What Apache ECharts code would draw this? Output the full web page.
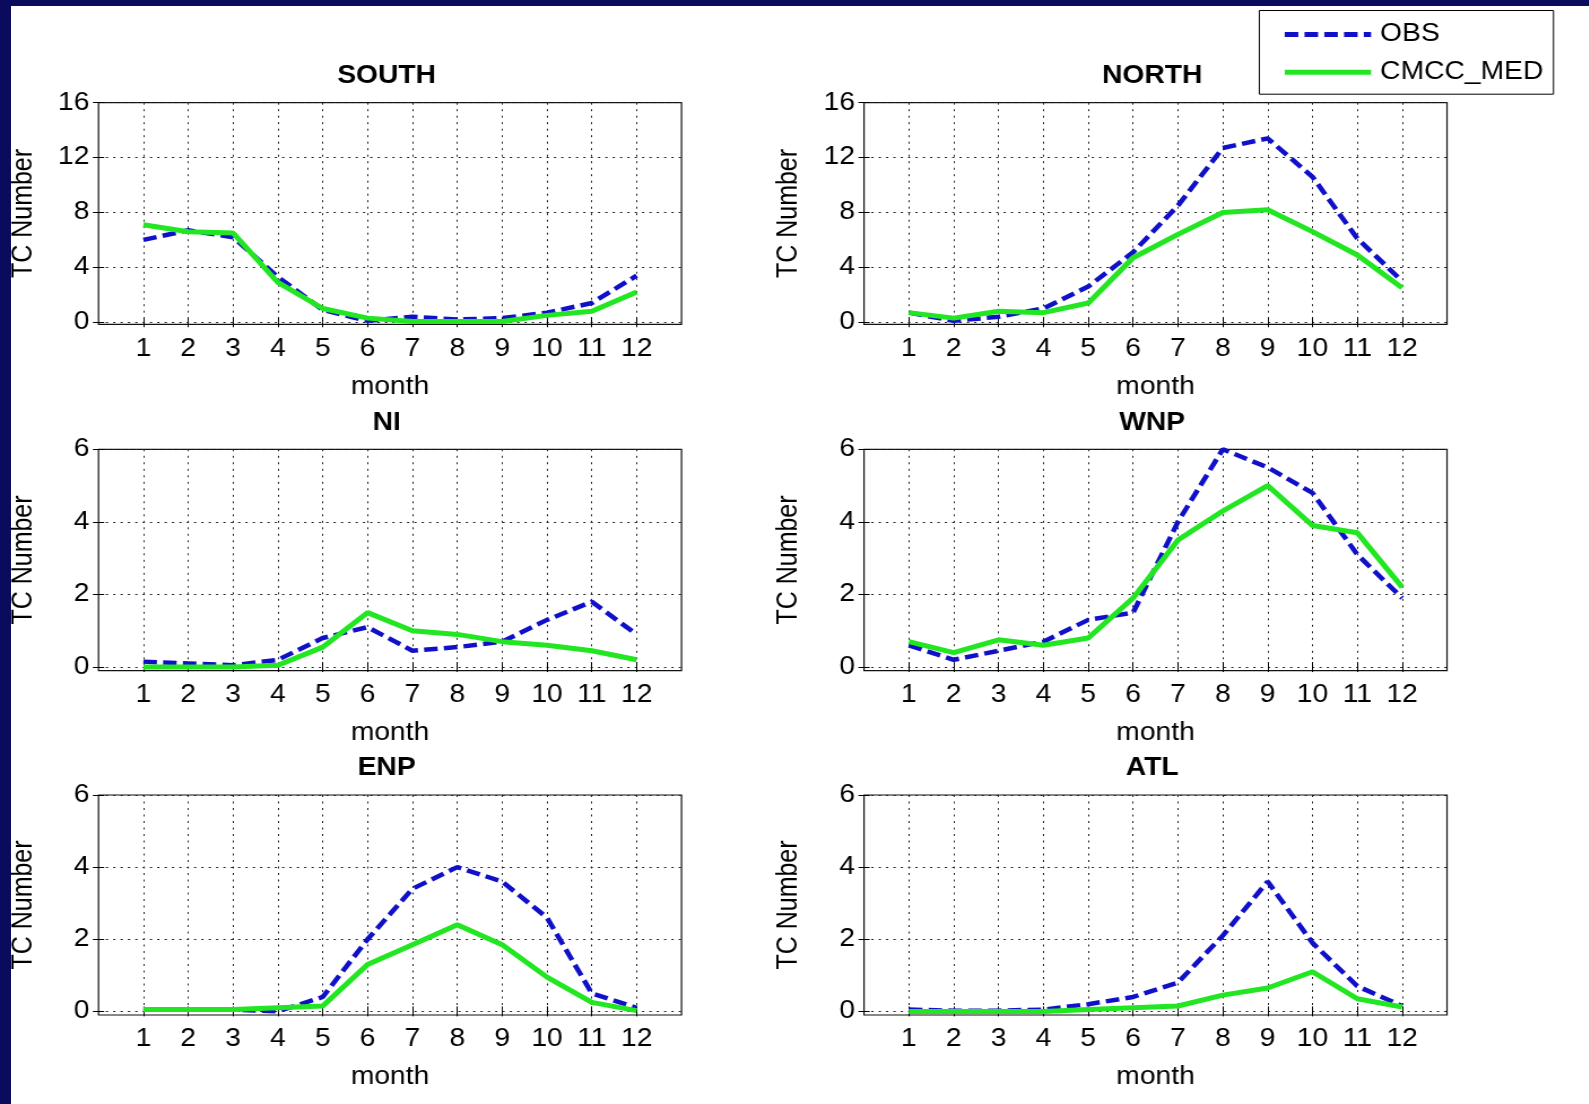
<!DOCTYPE html>
<html>
<head>
<meta charset="utf-8">
<script src="https://cdn.jsdelivr.net/npm/echarts@6/dist/echarts.min.js"></script>
<style>
html,body{margin:0;padding:0;background:#fff;width:1589px;height:1104px;overflow:hidden;}
#chart{position:absolute;left:0;top:0;width:1406px;height:1104px;transform:scaleX(1.13);transform-origin:0 0;}
.band{position:absolute;background:#0b0b5e;}
</style>
</head>
<body>
<div id="chart"></div>
<div class="band" style="left:0;top:0;width:1589px;height:6px"></div>
<div class="band" style="left:0;top:0;width:11px;height:1104px"></div>
<script>
// ---- data ----
const months = [1, 2, 3, 4, 5, 6, 7, 8, 9, 10, 11, 12];
const regions = ['SOUTH', 'NORTH', 'NI', 'WNP', 'ENP', 'ATL'];
const seriesNames = ['OBS', 'CMCC_MED'];

const obsSouth  = [6.0, 6.7, 6.2, 3.3, 0.9, 0.1, 0.4, 0.2, 0.3, 0.7, 1.4, 3.4];
const cmccSouth = [7.1, 6.6, 6.5, 2.9, 1.0, 0.3, 0.05, 0.05, 0.05, 0.5, 0.8, 2.2];

const obsNorth  = [0.7, 0.1, 0.4, 1.0, 2.6, 5.1, 8.5, 12.7, 13.4, 10.6, 6.1, 3.0];
const cmccNorth = [0.7, 0.3, 0.8, 0.7, 1.4, 4.7, 6.4, 8.0, 8.2, 6.6, 4.9, 2.5];

const obsNI  = [0.15, 0.1, 0.05, 0.2, 0.8, 1.1, 0.45, 0.55, 0.7, 1.3, 1.8, 0.9];
const cmccNI = [0.0, 0.0, 0.0, 0.05, 0.55, 1.5, 1.0, 0.9, 0.7, 0.6, 0.45, 0.2];

const obsWNP  = [0.6, 0.2, 0.45, 0.7, 1.3, 1.5, 4.0, 6.0, 5.5, 4.8, 3.1, 1.9];
const cmccWNP = [0.7, 0.4, 0.75, 0.6, 0.8, 1.9, 3.5, 4.3, 5.0, 3.9, 3.7, 2.2];

const obsENP  = [0.05, 0.05, 0.05, 0.0, 0.4, 2.0, 3.4, 4.0, 3.6, 2.6, 0.5, 0.1];
const cmccENP = [0.05, 0.05, 0.05, 0.1, 0.15, 1.3, 1.85, 2.4, 1.85, 0.95, 0.25, 0.02];

const obsATL  = [0.05, 0.02, 0.02, 0.05, 0.2, 0.4, 0.8, 2.1, 3.6, 1.9, 0.7, 0.15];
const cmccATL = [0.0, 0.0, 0.0, 0.0, 0.05, 0.1, 0.15, 0.45, 0.65, 1.1, 0.35, 0.12];

const yTicks16 = [0, 4, 8, 12, 16];
const yTicks6 = [0, 2, 4, 6];

const obsAll = [obsSouth, obsNorth, obsNI, obsWNP, obsENP, obsATL];
const cmccAll = [cmccSouth, cmccNorth, cmccNI, cmccWNP, cmccENP, cmccATL];
const yTicksAll = [yTicks16, yTicks16, yTicks6, yTicks6, yTicks6, yTicks6];

// ---- layout (page px; x divided by the horizontal stretch) ----
const S = 1.13;
const colLeft = [98.5 / S, 864 / S];
const boxW = 583 / S;
const rowTop = [102.7, 449.3, 795];
const rowH = [221.6, 221.4, 220];
const FONT = '"Liberation Sans", Arial, Helvetica, sans-serif';
const BLUE = '#1010c8';
const GREEN = '#22e622';
const GRIDDASH = [2, 4.5];

const grids = [], xAxes = [], yAxes = [], series = [], titles = [];
regions.forEach((name, i) => {
  const col = i % 2, row = Math.floor(i / 2);
  grids.push({
    left: colLeft[col], top: rowTop[row], width: boxW, height: rowH[row],
    show: true, borderColor: '#111', borderWidth: 1.2, backgroundColor: 'transparent', containLabel: false
  });
  titles.push({
    text: name, left: colLeft[col] + boxW / 2 - 8, top: rowTop[row] - 44, textAlign: 'center',
    textStyle: {fontFamily: FONT, fontWeight: 'bold', fontSize: 25, color: '#000'}
  });
  const ticks = yTicksAll[i];
  const ymax = ticks[ticks.length - 1];
  const ymin = ymax > 10 ? -0.15 : -0.1;
  xAxes.push({
    gridIndex: i, type: 'value', min: 0, max: 13, position: 'bottom',
    name: 'month', nameLocation: 'middle', nameGap: 50,
    nameTextStyle: {fontFamily: FONT, fontSize: 25, color: '#000'},
    axisLine: {show: false},
    axisTick: {show: true, inside: true, length: 5, customValues: months, lineStyle: {color: '#000', width: 1}},
    axisLabel: {show: true, customValues: months, margin: 12, fontFamily: FONT, fontSize: 25, color: '#000'},
    splitLine: {show: true, lineStyle: {color: '#222', width: 1, type: GRIDDASH}}
  });
  xAxes.push({
    gridIndex: i, type: 'value', min: 0, max: 13, position: 'top',
    axisLine: {show: false},
    axisTick: {show: true, inside: true, length: 5, customValues: months, lineStyle: {color: '#000', width: 1}},
    axisLabel: {show: false}, splitLine: {show: false}
  });
  yAxes.push({
    gridIndex: i, type: 'value', min: ymin, max: ymax, position: 'left',
    name: 'TC Number', nameLocation: 'middle', nameGap: 54,
    nameTextStyle: {fontFamily: FONT, fontSize: 25, color: '#000'},
    axisLine: {show: false},
    axisTick: {show: true, inside: true, length: 5, customValues: ticks, lineStyle: {color: '#000', width: 1}},
    axisLabel: {show: true, customValues: ticks, margin: 8, fontFamily: FONT, fontSize: 25, color: '#000'},
    splitLine: {show: true, lineStyle: {color: '#222', width: 1, type: GRIDDASH}}
  });
  yAxes.push({
    gridIndex: i, type: 'value', min: ymin, max: ymax, position: 'right',
    axisLine: {show: false},
    axisTick: {show: true, inside: true, length: 5, customValues: ticks, lineStyle: {color: '#000', width: 1}},
    axisLabel: {show: false}, splitLine: {show: false}
  });
  series.push({
    name: 'OBS', type: 'line', xAxisIndex: 2 * i, yAxisIndex: 2 * i,
    data: months.map((m, k) => [m, obsAll[i][k]]),
    symbol: 'none', showSymbol: false, silent: true,
    lineStyle: {color: BLUE, width: 4.5, type: [12, 5.5]}, itemStyle: {color: BLUE}, z: 3
  });
  series.push({
    name: 'CMCC_MED', type: 'line', xAxisIndex: 2 * i, yAxisIndex: 2 * i,
    data: months.map((m, k) => [m, cmccAll[i][k]]),
    symbol: 'none', showSymbol: false, silent: true,
    lineStyle: {color: GREEN, width: 5, type: 'solid'}, itemStyle: {color: GREEN}, z: 4
  });
});

const chart = echarts.init(document.getElementById('chart'), null, {renderer: 'canvas'});
chart.setOption({
  animation: false,
  backgroundColor: 'transparent',
  title: titles,
  legend: {
    data: seriesNames, orient: 'vertical', left: 1259.3 / S, top: 10.5,
    padding: [9, 9, 7, 20], itemGap: 7.7, itemWidth: 76.4, itemHeight: 14,
    backgroundColor: '#fff', borderColor: '#000', borderWidth: 1, borderRadius: 0,
    selectedMode: false,
    itemStyle: {opacity: 0, borderWidth: 0},
    lineStyle: {width: 5},
    textStyle: {fontFamily: FONT, fontSize: 25, color: '#000', lineHeight: 30, padding: [0, 0, 0, 3]}
  },
  grid: grids, xAxis: xAxes, yAxis: yAxes, series: series
});
</script>
</body>
</html>
